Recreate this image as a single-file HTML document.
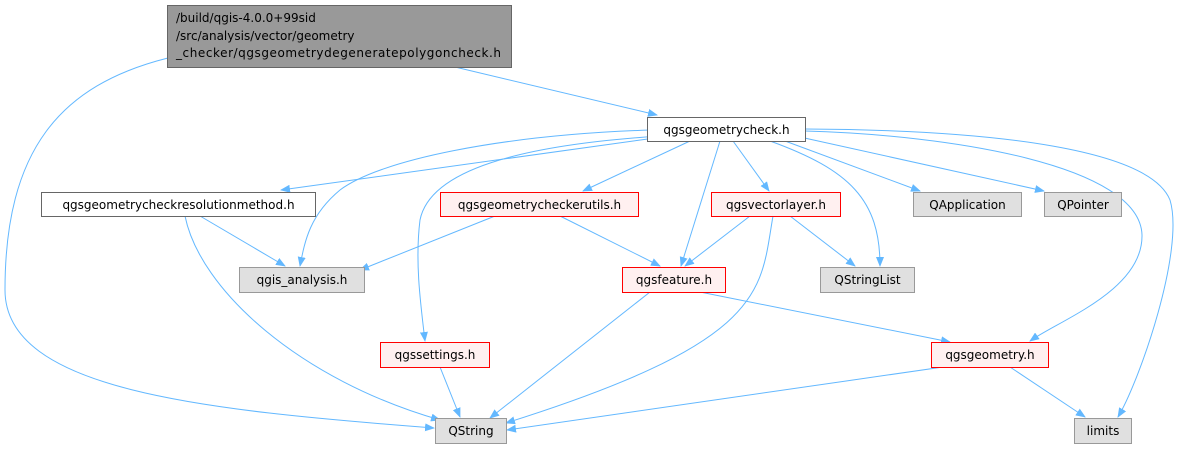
<!DOCTYPE html>
<html><head><meta charset="utf-8"><style>
html,body{margin:0;padding:0;background:#fff;}
svg text{font-family:"DejaVu Sans","Liberation Sans",sans-serif;font-size:12px;fill:#000;}
</style></head><body>
<svg width="1186" height="451" viewBox="0 0 1186 451" xmlns="http://www.w3.org/2000/svg">
<defs><marker id="a" markerWidth="10" markerHeight="8" refX="9" refY="4" orient="auto" markerUnits="userSpaceOnUse"><path d="M0,0 L10,4 L0,8 z" fill="#63b8ff"/></marker></defs>
<g fill="none" stroke="#63b8ff" stroke-width="1" marker-end="url(#a)">
<path d="M168,58 C60,85 5,150 5,290 C5,390 200,410 434,428"/>
<path d="M455,67 L657,115"/>
<path d="M655,138 L281,190"/>
<path d="M690,141 L583,191"/>
<path d="M733,141 L769,191"/>
<path d="M720,141 L681,266"/>
<path d="M660,136 C520,145 430,170 420,220 C415,260 420,300 425,341"/>
<path d="M650,130 C500,135 380,160 340,190 C310,215 305,240 300,266"/>
<path d="M770,141 C850,170 880,200 880,266"/>
<path d="M785,141 L920,191"/>
<path d="M800,137 L1044,191"/>
<path d="M805,131 C950,135 1140,165 1142,235 C1143,290 1060,320 1030,341"/>
<path d="M805,129 C1000,130 1150,150 1170,200 C1185,250 1140,380 1118,417"/>
<path d="M200,216 L285,266"/>
<path d="M185,216 C200,290 300,380 440,420"/>
<path d="M495,216 L360,270"/>
<path d="M560,216 L660,266"/>
<path d="M750,216 L685,266"/>
<path d="M790,216 L855,266"/>
<path d="M773,216 C760,290 770,340 506,423"/>
<path d="M650,292 L490,418"/>
<path d="M700,292 L950,342"/>
<path d="M440,367 L460,417"/>
<path d="M950,366 L507,430"/>
<path d="M1010,367 L1085,417"/>
</g>
<g stroke-width="1">
<rect x="167.5" y="5.5" width="344" height="62" fill="#999" stroke="#666"/>
<rect x="647.5" y="117.5" width="158" height="24" fill="#fff" stroke="#666"/>
<rect x="41.5" y="192.5" width="274" height="24" fill="#fff" stroke="#666"/>
<rect x="440.5" y="192.5" width="198" height="24" fill="#fff0f0" stroke="#f00"/>
<rect x="711.5" y="192.5" width="129" height="24" fill="#fff0f0" stroke="#f00"/>
<rect x="913.5" y="192.5" width="108" height="24" fill="#e0e0e0" stroke="#999"/>
<rect x="1044.5" y="192.5" width="77" height="24" fill="#e0e0e0" stroke="#999"/>
<rect x="239.5" y="267.5" width="125" height="25" fill="#e0e0e0" stroke="#999"/>
<rect x="622.5" y="267.5" width="103" height="25" fill="#fff0f0" stroke="#f00"/>
<rect x="820.5" y="267.5" width="94" height="25" fill="#e0e0e0" stroke="#999"/>
<rect x="380.5" y="342.5" width="109" height="25" fill="#fff0f0" stroke="#f00"/>
<rect x="931.5" y="342.5" width="117" height="25" fill="#fff0f0" stroke="#f00"/>
<rect x="435.5" y="418.5" width="71" height="25" fill="#e0e0e0" stroke="#999"/>
<rect x="1074.5" y="418.5" width="57" height="25" fill="#e0e0e0" stroke="#999"/>
</g>
<text x="176" y="22">/build/qgis-4.0.0+99sid</text>
<text x="176" y="40">/src/analysis/vector/geometry</text>
<text x="176" y="57" textLength="325">_checker/qgsgeometrydegeneratepolygoncheck.h</text>
<g text-anchor="middle">
<text x="726.5" y="134">qgsgeometrycheck.h</text>
<text x="178.5" y="209">qgsgeometrycheckresolutionmethod.h</text>
<text x="539.5" y="209">qgsgeometrycheckerutils.h</text>
<text x="776" y="209">qgsvectorlayer.h</text>
<text x="967.5" y="209">QApplication</text>
<text x="1083" y="209">QPointer</text>
<text x="302" y="284">qgis_analysis.h</text>
<text x="674" y="284">qgsfeature.h</text>
<text x="867.5" y="284">QStringList</text>
<text x="435" y="359">qgssettings.h</text>
<text x="990" y="359">qgsgeometry.h</text>
<text x="471" y="435">QString</text>
<text x="1103" y="435">limits</text>
</g>
</svg>
</body></html>
